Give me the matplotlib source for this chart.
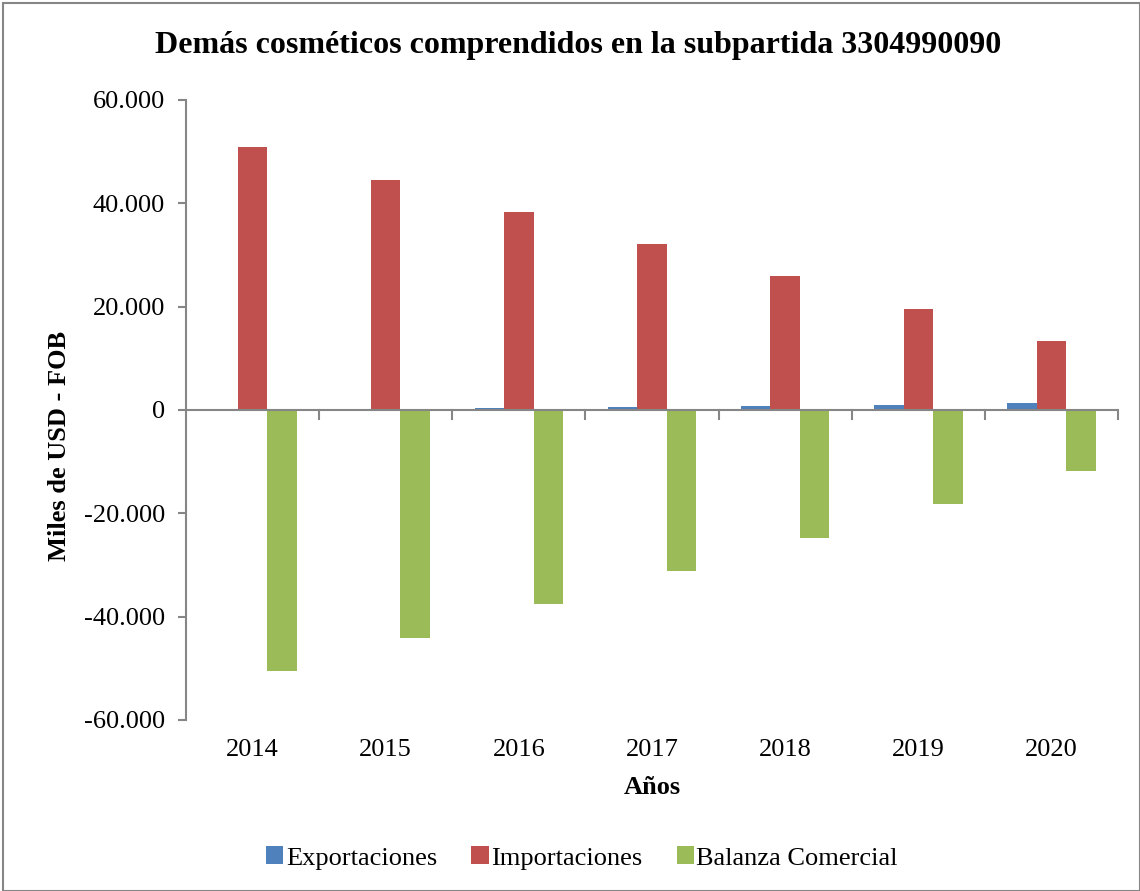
import matplotlib.pyplot as plt
import numpy as np
from matplotlib.patches import Rectangle
from matplotlib.ticker import FuncFormatter

plt.rcParams['font.family'] = ['Liberation Serif', 'DejaVu Serif']

years = ['2014', '2015', '2016', '2017', '2018', '2019', '2020']
exportaciones = [100, 250, 450, 650, 850, 1050, 1300]
importaciones = [50900, 44500, 38300, 32100, 25900, 19550, 13350]
balanza = [-50500, -44100, -37550, -31150, -24800, -18200, -11800]

colors = ['#4f81bd', '#c0504d', '#9bbb59']
grey = '#868686'

fig = plt.figure(figsize=(11.4, 8.91), dpi=100)
ax = fig.add_axes([186 / 1140, 1 - 720 / 891, 932 / 1140, 620 / 891])

x = np.arange(len(years))
w = 0.222
ax.bar(x - w, exportaciones, w, color=colors[0], label='Exportaciones')
ax.bar(x, importaciones, w, color=colors[1], label='Importaciones')
ax.bar(x + w, balanza, w, color=colors[2], label='Balanza Comercial')

ax.set_xlim(-0.5, len(years) - 0.5)
ax.set_ylim(-60000, 60000)
ax.set_yticks(range(-60000, 60001, 20000))
ax.yaxis.set_major_formatter(FuncFormatter(lambda v, p: f'{v:,.0f}'.replace(',', '.')))

for s in ['top', 'right', 'bottom']:
    ax.spines[s].set_visible(False)
ax.spines['left'].set_color(grey)
ax.spines['left'].set_linewidth(1.5)
ax.axhline(0, color=grey, lw=1.5, zorder=3)
ax.tick_params(axis='y', direction='out', length=6, width=1.5, color=grey, labelsize=19, pad=9)

# category ticks between groups on the zero line
ax.set_xticks(x)
ax.set_xticklabels([])
ax.tick_params(axis='x', length=0)
for b in np.arange(0.5, len(years), 1):
    ax.plot([b, b], [0, -1800], color=grey, lw=1.5, zorder=3, clip_on=False)
for xi, lab in zip(x, years):
    ax.text(xi, 1 - 750 / 891, lab, transform=ax.get_xaxis_transform().__class__(ax.transData, fig.transFigure),
            ha='center', va='center', fontsize=19)

ax.set_ylabel('Miles de USD - FOB', fontsize=19, fontweight='bold')
ax.yaxis.set_label_coords(60 / 1140, 0.5, transform=fig.transFigure)
ax.yaxis.label.set_va('center')
fig.text(652 / 1140, 1 - 788 / 891, 'Años', ha='center', va='center', fontsize=19, fontweight='bold')
fig.text(578 / 1140, 1 - 45 / 891, 'Demás cosméticos comprendidos en la subpartida 3304990090',
         ha='center', va='center', fontsize=23, fontweight='bold')

fig.legend(loc='center', bbox_to_anchor=(582 / 1140, 1 - 858 / 891), ncol=3, frameon=False,
           fontsize=19, handlelength=0.65, handleheight=0.65, handletextpad=0.1, columnspacing=1.3)

fig.patches.append(Rectangle((3 / 1140, 0), 1 - 3 / 1140, 1 - 3 / 891, transform=fig.transFigure,
                             fill=False, edgecolor=grey, lw=1.5))

fig.savefig('out.png', dpi=100)
